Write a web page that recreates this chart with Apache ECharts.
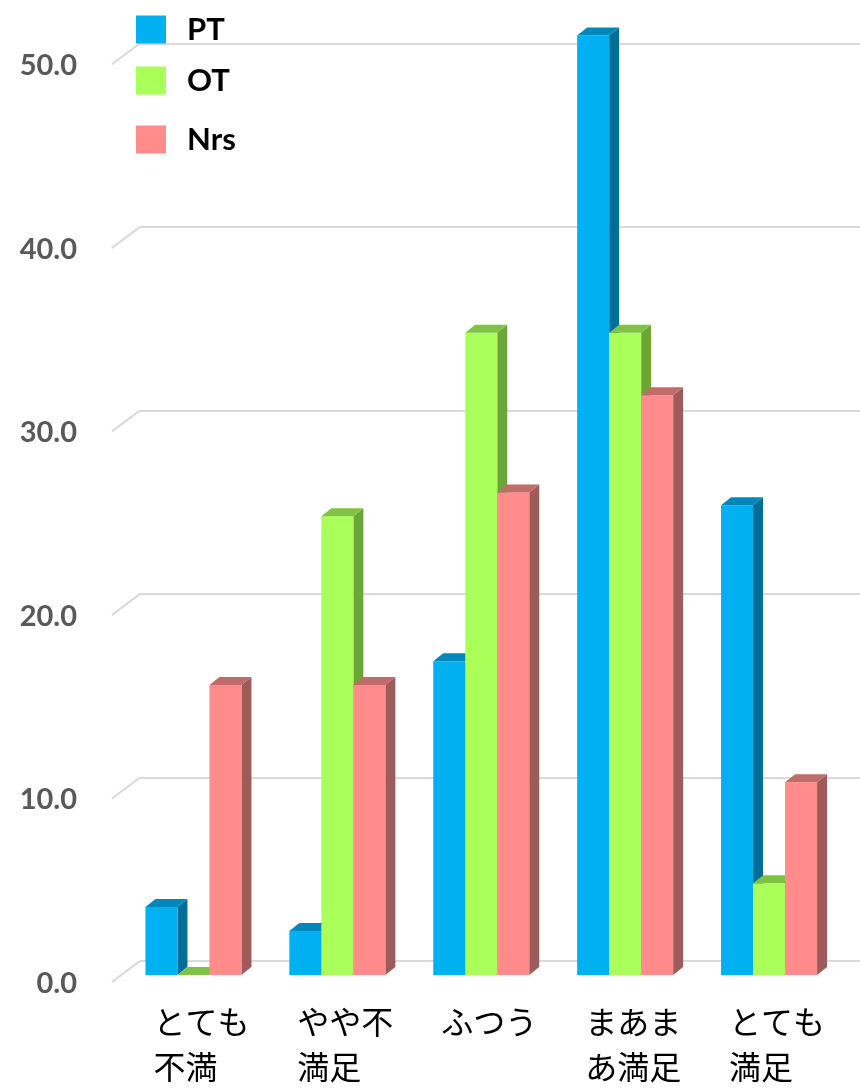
<!DOCTYPE html>
<html>
<head>
<meta charset="utf-8">
<script src="https://cdn.jsdelivr.net/npm/echarts@6/dist/echarts.min.js"></script>
<style>
  html, body { margin: 0; padding: 0; background: #ffffff; }
  #chart { width: 860px; height: 1088px; }
</style>
</head>
<body>
<div id="chart"></div>
<script>
// Satisfaction by profession (%)
const categories = ['とても\n不満', 'やや不\n満足', 'ふつう', 'まあま\nあ満足', 'とても\n満足'];
const seriesNames = ['PT', 'OT', 'Nrs'];
const ptValues  = [3.7, 2.4, 17.1, 51.2, 25.6];
const otValues  = [0.0, 25.0, 35.0, 35.0, 5.0];
const nrsValues = [15.8, 15.8, 26.3, 31.6, 10.5];
const yTicks = [0, 10, 20, 30, 40, 50];

// Face colours for each bar: front, top, side
const faceColors = [
  { front: '#00B0F0', top: '#0088BC', side: '#006E98' },
  { front: '#AAFF58', top: '#80C342', side: '#6BA637' },
  { front: '#FF8B8B', top: '#C26B6B', side: '#A15A5A' }
];

const BAR_RATIO = 0.2224;   // width of one bar as a share of the category band
const DEPTH_X = 10;         // oblique depth of bars
const DEPTH_Y = 8;
const WALL_DX = 28;         // depth of the floor edge of the back wall
const WALL_DY = 21;

function barRenderer(idx) {
  const col = faceColors[idx];
  return function (params, api) {
    const cat = api.value(0);
    const v = api.value(1);
    const base = api.coord([cat, 0]);
    const top = api.coord([cat, v]);
    const w = api.size([1, 0])[0] * BAR_RATIO;
    const x0 = base[0] + (idx - 1.5) * w;
    const x1 = x0 + w;
    const yT = top[1], yB = base[1];
    return {
      type: 'group',
      children: [
        {
          type: 'polygon',
          shape: { points: [[x1, yT], [x1 + DEPTH_X, yT - DEPTH_Y], [x1 + DEPTH_X, yB - DEPTH_Y], [x1, yB]] },
          style: { fill: col.side }
        },
        {
          type: 'rect',
          shape: { x: x0, y: yT, width: w, height: yB - yT },
          style: { fill: col.front }
        },
        {
          type: 'polygon',
          shape: { points: [[x0, yT], [x0 + DEPTH_X, yT - DEPTH_Y], [x1 + DEPTH_X, yT - DEPTH_Y], [x1, yT]] },
          style: { fill: col.top }
        }
      ]
    };
  };
}

function toData(vals) {
  return vals.map((v, i) => [i, v]);
}

const valueSets = [ptValues, otValues, nrsValues];

const barSeries = seriesNames.map((name, i) => ({
  name: name,
  type: 'custom',
  xAxisIndex: 0,
  yAxisIndex: 0,
  renderItem: barRenderer(i),
  itemStyle: { color: faceColors[i].front },
  encode: { x: 0, y: 1 },
  data: toData(valueSets[i]),
  z: 3
}));

// Short floor-to-front edges of the wall gridlines
const wallEdges = {
  type: 'custom',
  xAxisIndex: 1,
  yAxisIndex: 1,
  silent: true,
  renderItem: function (params, api) {
    const p = api.coord([0, api.value(1)]);
    return {
      type: 'line',
      shape: { x1: p[0] - WALL_DX, y1: p[1] + WALL_DY, x2: p[0], y2: p[1] },
      style: { stroke: '#D9D9D9', lineWidth: 2 }
    };
  },
  data: yTicks.map(t => [0, t]),
  z: 1
};

const legendBase = {
  orient: 'vertical',
  left: 131,
  icon: 'rect',
  itemWidth: 30,
  itemHeight: 28,
  textStyle: {
    fontFamily: 'Lato',
    fontWeight: 'bold',
    fontSize: 31,
    color: '#000000',
    lineHeight: 28,
    padding: [0, 0, 0, 16]
  },
  selectedMode: false
};

const option = {
  backgroundColor: '#ffffff',
  animation: false,
  legend: [
    Object.assign({}, legendBase, { top: 9, data: ['PT'] }),
    Object.assign({}, legendBase, { top: 60, data: ['OT'] }),
    Object.assign({}, legendBase, { top: 119, data: ['Nrs'] })
  ],
  grid: [
    { left: 121.5, right: 19, top: 20.8, bottom: 113 },
    { left: 140, right: 0, top: 43.3, bottom: 127 }
  ],
  xAxis: [
    {
      gridIndex: 0,
      type: 'category',
      data: categories,
      axisLine: { show: false },
      axisTick: { show: false },
      axisLabel: {
        margin: 24,
        padding: [0, 0, 0, 16],
        interval: 0,
        formatter: function (v) {
          return v.split('\n').map(s => '{a|' + s + '}').join('\n');
        },
        rich: {
          a: {
            fontFamily: 'Noto Sans CJK JP',
            fontSize: 32,
            lineHeight: 45,
            color: '#000000',
            align: 'left'
          }
        }
      }
    },
    { gridIndex: 1, type: 'value', min: 0, max: 1, show: false }
  ],
  yAxis: [
    { gridIndex: 0, type: 'value', min: 0, max: 52, show: false },
    {
      gridIndex: 1,
      type: 'value',
      min: 0,
      max: 50,
      interval: 10,
      axisLine: { show: false },
      axisTick: { show: false },
      splitLine: { lineStyle: { color: '#D9D9D9', width: 2 } },
      axisLabel: {
        margin: 63,
        // an empty first line drops the label down to the front edge of the floor
        formatter: v => '{s|}\n{t|' + v.toFixed(1) + '}',
        rich: {
          s: { lineHeight: 45, fontSize: 29 },
          t: {
            lineHeight: 45,
            color: '#595959',
            fontFamily: 'Lato',
            fontWeight: 'bold',
            fontSize: 29
          }
        }
      }
    }
  ],
  series: [wallEdges].concat(barSeries)
};

const chart = echarts.init(document.getElementById('chart'), null, { renderer: 'canvas' });
chart.setOption(option);
</script>
</body>
</html>
